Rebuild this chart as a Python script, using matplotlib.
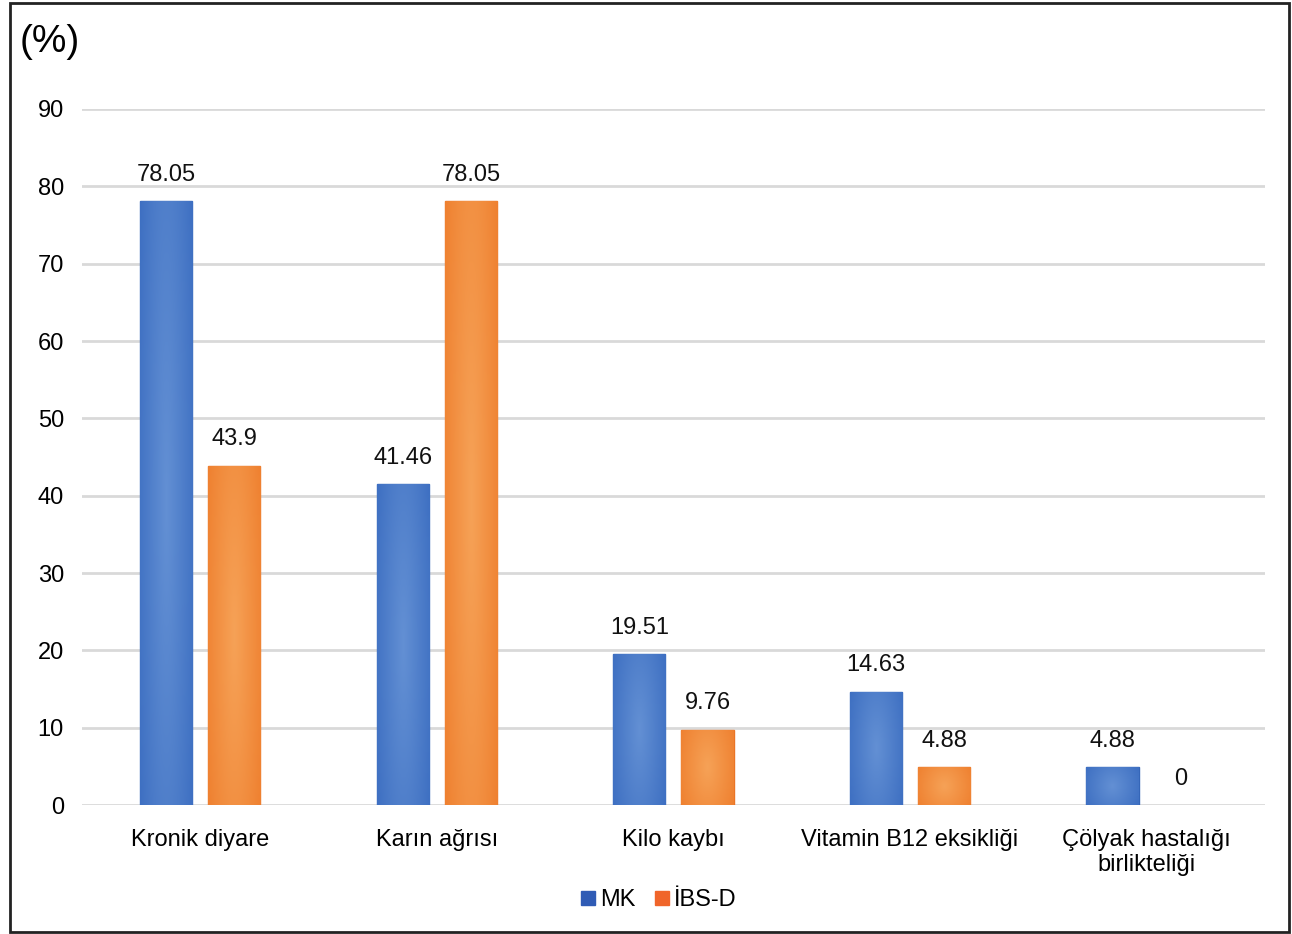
import numpy as np
import matplotlib
matplotlib.use("Agg")
import matplotlib.pyplot as plt
from matplotlib.patches import Rectangle
from matplotlib.colors import LinearSegmentedColormap

plt.rcParams["font.family"] = ["Liberation Sans", "DejaVu Sans"]

categories = ["Kronik diyare", "Karın ağrısı", "Kilo kaybı",
              "Vitamin B12 eksikliği", "Çölyak hastalığı\nbirlikteliği"]
mk = [78.05, 41.46, 19.51, 14.63, 4.88]
ibs_d = [43.9, 78.05, 9.76, 4.88, 0]
series_names = ["MK", "İBS-D"]
yticks = [0, 10, 20, 30, 40, 50, 60, 70, 80, 90]

FS = 17


def shade(ax, bars, light, dark):
    # soft radial highlight inside each bar, like the original export
    cmap = LinearSegmentedColormap.from_list("g", [light, dark])
    yy, xx = np.mgrid[-1:1:60j, -1:1:60j]
    grad = np.sqrt(xx ** 2 + (yy * 0.6) ** 2)
    for b in bars:
        h = b.get_height()
        if h <= 0:
            b.set_visible(False)
            continue
        x0 = b.get_x()
        im = ax.imshow(grad, cmap=cmap, extent=(x0, x0 + b.get_width(), 0, h),
                       aspect="auto", zorder=3, vmin=0, vmax=1.3)
        im.set_clip_path(b)


fig = plt.figure(figsize=(12.92, 9.34), dpi=100)
ax = fig.add_axes([0.0635, 0.138, 0.9155, 0.7453])

x = np.arange(len(categories))
w = 0.22
off = 0.144
b1 = ax.bar(x - off, mk, w, color="#4a7cc8", edgecolor="#3566b8", linewidth=1, zorder=2)
b2 = ax.bar(x + off, ibs_d, w, color="#f08a3a", edgecolor="#ea7526", linewidth=1, zorder=2)
shade(ax, b1, "#6390d4", "#3a6cc0")
shade(ax, b2, "#f6a257", "#ee7d2c")

for bars, vals in ((b1, mk), (b2, ibs_d)):
    for b, v in zip(bars, vals):
        ax.text(b.get_x() + b.get_width() / 2, v + 2.0, f"{v:g}",
                ha="center", va="bottom", fontsize=FS, color="#111111")

ax.set_xlim(-0.5, len(categories) - 0.5)
ax.set_ylim(0, 90)
ax.set_yticks(yticks)
ax.set_xticks(x)
ax.set_xticklabels(categories, fontsize=FS, linespacing=1.2)
ax.tick_params(axis="y", labelsize=FS, length=0, pad=13)
ax.tick_params(axis="x", length=0, pad=17)
ax.grid(axis="y", color="#d9d9d9", linewidth=2, zorder=0)
ax.set_axisbelow(True)
for s in ax.spines.values():
    s.set_visible(False)

fig.text(0.0155, 0.955, "(%)", fontsize=28, ha="left", va="center")

h1 = plt.Line2D([], [], marker="s", linestyle="", color="#2f5bb5", markersize=10)
h2 = plt.Line2D([], [], marker="s", linestyle="", color="#f0652a", markersize=10)
fig.legend([h1, h2], series_names, loc="center", bbox_to_anchor=(0.508, 0.036),
           ncol=2, frameon=False, fontsize=FS, handletextpad=0.0,
           columnspacing=0.6, handlelength=1.0)

fig.patches.append(Rectangle((0.008, 0.002), 0.99, 0.995, transform=fig.transFigure,
                             fill=False, edgecolor="#222222", linewidth=2))

fig.savefig("out.png", dpi=100)
